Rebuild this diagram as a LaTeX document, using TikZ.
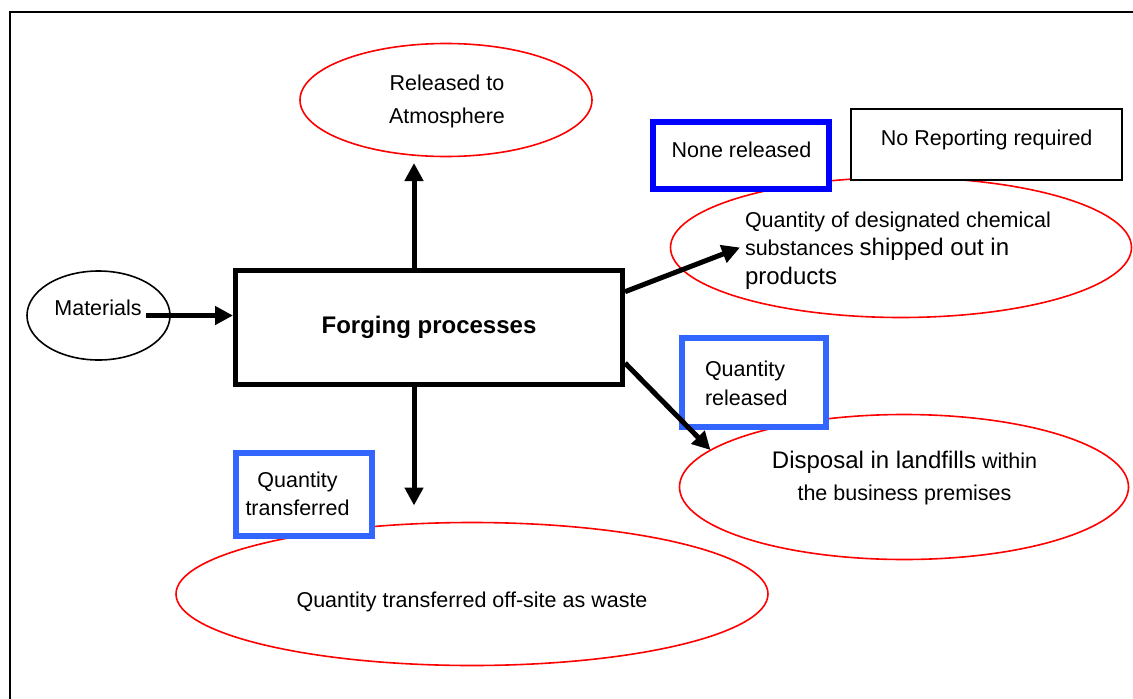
\documentclass[tikz,border=0pt]{standalone}
\usepackage{fontspec}
\setmainfont{Liberation Sans}
\usetikzlibrary{shapes.geometric,arrows.meta}

\definecolor{deepblue}{RGB}{0,0,255}
\definecolor{softblue}{RGB}{51,102,255}

% small and large text sizes used in the labels
\newcommand{\smalltxt}{\fontsize{21.5}{29}\selectfont}
\newcommand{\bigtxt}{\fontsize{24}{29}\selectfont}
% stacked lines whose baseline is the first line
\newcommand{\stackc}[1]{\begin{tabular}[t]{@{}c@{}}#1\end{tabular}}
\newcommand{\stackl}[1]{\begin{tabular}[t]{@{}l@{}}#1\end{tabular}}

\begin{document}
\begin{tikzpicture}[x=1pt,y=-1pt,
  every node/.style={inner sep=0pt, outer sep=0pt},
  txt/.style={font=\smalltxt, anchor=base},
  txtl/.style={font=\smalltxt, anchor=base west},
  redoval/.style={ellipse, draw=red, line width=1.6pt, fill=white},
  blackoval/.style={ellipse, draw=black, line width=1.6pt, fill=white},
  processbox/.style={rectangle, draw=black, line width=5pt, fill=white},
  deepbox/.style={rectangle, draw=deepblue, line width=6pt, fill=white},
  softbox/.style={rectangle, draw=softblue, line width=6pt, fill=white},
  plainbox/.style={rectangle, draw=black, line width=1.6pt, fill=white},
  flow/.style={line width=5pt, -{Triangle[length=18pt,width=18pt]}},
]
\useasboundingbox (0,0) rectangle (1133,699);

% outer frame (runs off the right and bottom edges)
\draw[line width=2.5pt] (10,720) -- (10,12) -- (1150,12);

% shapes
\node[redoval, minimum width=292, minimum height=113] (rel) at (446,100) {};
\node[blackoval, minimum width=143, minimum height=89] (mat) at (98.5,315.5) {};
\node[processbox, minimum width=387, minimum height=114] (forge) at (429,327.3) {};

\node[redoval, minimum width=461, minimum height=140] (chem) at (901,247.5) {};
\node[deepbox, minimum width=176, minimum height=67] (none) at (741,155.5) {};
\node[plainbox, minimum width=271.5, minimum height=71.5] (noreport) at (986.5,144.5) {};

\node[redoval, minimum width=449, minimum height=145] (disp) at (904,487) {};
\node[softbox, minimum width=144, minimum height=89] (relbox) at (754,382.5) {};

\node[redoval, minimum width=592, minimum height=143] (waste) at (472,594) {};
\node[softbox, minimum width=136, minimum height=83] (trbox) at (304,494.5) {};

% texts
\node[txt, font=\fontsize{21.5}{33}\selectfont] (t-rel) at (447,90) {\stackc{Released to\\Atmosphere}};
\node[txt] (t-mat) at (98,315) {Materials};
\node[txt, font=\bfseries\fontsize{24}{29}\selectfont] (t-forge) at (429,333) {Forging processes};
\node[txt] (t-none) at (741.5,157) {None released};
\node[txt] (t-noreport) at (986.7,145) {No Reporting required};
\node[txtl, font=\fontsize{21.5}{28.5}\selectfont] (t-chem) at (745,227)
  {\stackl{Quantity of designated chemical\\substances \bigtxt shipped out in\\\bigtxt products}};
\node[txtl] (t-relbox) at (705,376) {\stackl{Quantity\\released}};
\node[txt, font=\fontsize{21.5}{31.5}\selectfont] (t-disp) at (904.5,468.6)
  {\stackc{{\bigtxt Disposal in landfills} within\\the business premises}};
\node[txt, font=\fontsize{21.5}{28}\selectfont] (t-trbox) at (297.5,487) {\stackc{Quantity\\transferred}};
\node[txt] (t-waste) at (472,607) {Quantity transferred off-site as waste};

% flows
\draw[flow] ([xshift=47.5]mat.center) -- ([xshift=-2.5]mat.center -| forge.west);
\draw[flow] ([xshift=-15]forge.north) -- ([xshift=-32,yshift=-6.5]rel.south);
\draw[flow] ([xshift=-15]forge.south) -- ([xshift=-58,yshift=17]waste.north);
\draw[flow] ([xshift=2.5,yshift=35.6]forge.east) -- ([xshift=-161]chem.center);
\draw[flow] ([xshift=2.5,yshift=-35.7]forge.east) -- ([xshift=31,yshift=37]disp.west);
\end{tikzpicture}
\end{document}
